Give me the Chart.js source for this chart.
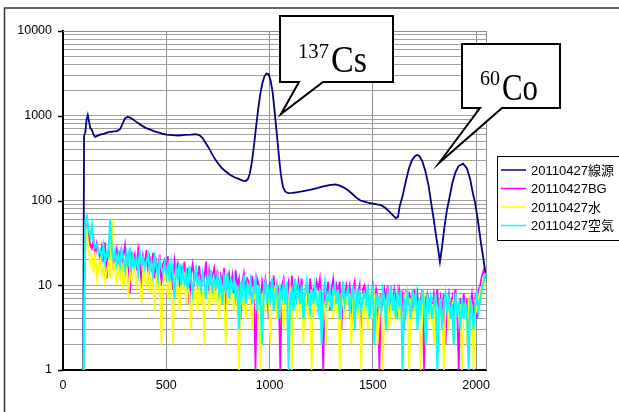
<!DOCTYPE html>
<html>
<head>
<meta charset="utf-8">
<script src="https://cdn.jsdelivr.net/npm/chart.js@4.4.1/dist/chart.umd.min.js"></script>
<style>
  body { margin: 0; background: #fff; }
  canvas { display: block; }
</style>
</head>
<body>
<canvas id="specChart" width="619" height="412"></canvas>
<script>
// 線源 spectrum (channel, counts)
const sourceChannels = [
  98, 102, 108, 114, 120, 126, 132, 140, 148, 156,
  166, 180, 200, 220, 240, 260, 276, 288, 300, 312,
  326, 340, 360, 380, 400, 420, 440, 460, 480, 500,
  530, 560, 590, 620, 640, 660, 675, 690, 705, 720,
  735, 750, 770, 790, 810, 830, 850, 870, 885, 895,
  905, 915, 925, 935, 945, 955, 965, 975, 985, 995,
  1005, 1015, 1025, 1035, 1045, 1055, 1065, 1075, 1090, 1110,
  1130, 1150, 1170, 1200, 1230, 1260, 1290, 1320, 1340, 1360,
  1380, 1400, 1420, 1440, 1460, 1480, 1500, 1520, 1540, 1560,
  1580, 1600, 1612, 1622, 1630, 1645, 1660, 1675, 1690, 1705,
  1715, 1725, 1740, 1755, 1770, 1785, 1795, 1805, 1815, 1825,
  1835, 1845, 1858, 1870, 1885, 1900, 1915, 1937, 1955, 1970,
  1985, 1995, 2010, 2024, 2036, 2047
];
const sourceCounts = [
  1, 580, 640, 900, 1020, 860, 720, 680, 600, 560,
  580, 600, 615, 640, 650, 660, 690, 800, 930, 970,
  950, 900, 830, 770, 720, 690, 660, 635, 615, 600,
  590, 585, 595, 600, 605, 590, 550, 480, 420, 360,
  310, 275, 240, 218, 200, 188, 180, 172, 170, 178,
  210, 290, 450, 750, 1200, 1800, 2400, 2900, 3150, 3100,
  2600, 1900, 1100, 620, 340, 200, 145, 128, 122, 123,
  125, 127, 130, 134, 140, 147, 152, 155, 150, 142,
  132, 120, 108, 100, 97, 94, 92, 90, 88, 82,
  74, 66, 62, 64, 85, 115, 170, 240, 300, 335,
  345, 335, 290, 220, 150, 85, 60, 40, 28, 19,
  28, 45, 75, 105, 160, 215, 255, 272, 240, 185,
  120, 95, 55, 31, 20, 13
];

// BG / 水 / 空気 share the same channels
const noiseChannels = [
  100, 108, 116, 124, 132, 140, 148, 156, 164, 172,
  180, 188, 196, 204, 212, 220, 228, 236, 244, 252,
  260, 268, 276, 284, 292, 300, 308, 316, 324, 332,
  340, 348, 356, 364, 372, 380, 388, 396, 404, 412,
  420, 428, 436, 444, 452, 460, 468, 476, 484, 492,
  500, 508, 516, 524, 532, 540, 548, 556, 564, 572,
  580, 588, 596, 604, 612, 620, 628, 636, 644, 652,
  660, 668, 676, 684, 692, 700, 708, 716, 724, 732,
  740, 748, 756, 764, 772, 780, 788, 796, 804, 812,
  820, 828, 836, 844, 852, 860, 868, 876, 884, 892,
  900, 908, 916, 924, 932, 940, 948, 956, 964, 972,
  980, 988, 996, 1004, 1012, 1020, 1028, 1036, 1044, 1052,
  1060, 1068, 1076, 1084, 1092, 1100, 1108, 1116, 1124, 1132,
  1140, 1148, 1156, 1164, 1172, 1180, 1188, 1196, 1204, 1212,
  1220, 1228, 1236, 1244, 1252, 1260, 1268, 1276, 1284, 1292,
  1300, 1308, 1316, 1324, 1332, 1340, 1348, 1356, 1364, 1372,
  1380, 1388, 1396, 1404, 1412, 1420, 1428, 1436, 1444, 1452,
  1460, 1468, 1476, 1484, 1492, 1500, 1508, 1516, 1524, 1532,
  1540, 1548, 1556, 1564, 1572, 1580, 1588, 1596, 1604, 1612,
  1620, 1628, 1636, 1644, 1652, 1660, 1668, 1676, 1684, 1692,
  1700, 1708, 1716, 1724, 1732, 1740, 1748, 1756, 1764, 1772,
  1780, 1788, 1796, 1804, 1812, 1820, 1828, 1836, 1844, 1852,
  1860, 1868, 1876, 1884, 1892, 1900, 1908, 1916, 1924, 1932,
  1940, 1948, 1956, 1964, 1972, 1980, 1988, 1996, 2004, 2012,
  2020, 2028, 2036, 2044
];
const bgCounts = [
  1, 48, 52, 40, 30, 27, 35, 22, 31, 25,
  20, 28, 18, 32, 12, 26, 23, 30, 17, 22,
  27, 19, 24, 14, 22, 30, 16, 21, 8, 25,
  18, 23, 15, 27, 20, 9, 22, 17, 26, 14,
  21, 16, 24, 12, 19, 15, 23, 10, 18, 20,
  14, 22, 12, 17, 9, 20, 15, 18, 11, 16,
  13, 19, 10, 16, 6, 14, 18, 11, 15, 12,
  17, 9, 14, 12, 19, 8, 15, 11, 13, 16,
  10, 15, 7, 13, 11, 16, 5, 12, 14, 9,
  13, 8, 15, 10, 12, 4, 11, 14, 9, 12,
  11, 7, 13, 9, 1, 12, 10, 6, 11, 8,
  12, 9, 4, 11, 8, 13, 6, 10, 9, 1,
  10, 12, 7, 9, 11, 5, 13, 8, 10, 6,
  11, 8, 12, 3, 9, 10, 6, 12, 8, 9,
  7, 11, 9, 12, 6, 1, 10, 8, 11, 5,
  9, 12, 7, 10, 8, 11, 3, 9, 7, 10,
  8, 10, 4, 9, 11, 6, 8, 10, 2, 9,
  10, 7, 9, 5, 8, 10, 6, 9, 7, 1,
  8, 6, 9, 7, 10, 4, 8, 6, 9, 7,
  5, 9, 7, 8, 3, 9, 6, 8, 7, 5,
  9, 6, 8, 4, 7, 9, 1, 7, 8, 6,
  7, 5, 8, 6, 9, 4, 7, 5, 8, 2,
  6, 8, 5, 7, 4, 9, 6, 1, 7, 5,
  8, 5, 7, 3, 6, 8, 5, 7, 4, 9,
  10, 13, 15, 12
];
const waterCounts = [
  1, 30, 44, 26, 18, 22, 14, 25, 12, 16,
  20, 13, 17, 11, 15, 19, 12, 62, 14, 18,
  10, 16, 12, 19, 9, 14, 17, 7, 15, 11,
  13, 18, 9, 15, 11, 6, 16, 12, 10, 14,
  8, 13, 11, 5, 14, 9, 12, 2, 10, 13,
  11, 7, 12, 9, 2, 13, 8, 10, 5, 11,
  9, 12, 6, 10, 8, 3, 11, 7, 9, 5,
  10, 6, 9, 2, 11, 8, 5, 10, 7, 9,
  6, 9, 4, 10, 7, 8, 2, 9, 6, 11,
  8, 5, 9, 7, 1, 8, 6, 10, 4, 7,
  9, 6, 3, 8, 7, 10, 5, 1, 8, 6,
  5, 9, 7, 2, 8, 6, 10, 4, 7, 9,
  6, 3, 8, 7, 5, 10, 1, 7, 6, 4,
  8, 5, 7, 2, 9, 6, 4, 8, 1, 7,
  5, 8, 6, 9, 3, 7, 5, 2, 8, 6,
  7, 4, 9, 5, 6, 1, 8, 6, 4, 7,
  6, 8, 2, 7, 5, 9, 4, 6, 1, 8,
  5, 7, 3, 6, 8, 4, 7, 5, 2, 6,
  7, 1, 6, 5, 8, 3, 6, 7, 4, 5,
  6, 4, 7, 2, 6, 8, 5, 1, 7, 4,
  5, 7, 4, 6, 1, 5, 8, 3, 6, 5,
  4, 6, 2, 7, 5, 3, 6, 4, 1, 6,
  7, 3, 5, 6, 2, 5, 7, 4, 6, 1,
  5, 6, 2, 7, 4, 5, 1, 6, 5, 7,
  9, 8, 12, 10
];
const airCounts = [
  1, 58, 66, 45, 38, 52, 33, 28, 30, 24,
  26, 21, 29, 19, 24, 22, 60, 27, 20, 25,
  18, 23, 17, 26, 21, 15, 24, 19, 28, 16,
  22, 17, 20, 14, 25, 18, 21, 16, 19, 23,
  15, 19, 13, 22, 17, 12, 20, 16, 14, 18,
  13, 17, 11, 19, 14, 7, 16, 12, 18, 10,
  15, 11, 14, 9, 17, 12, 8, 13, 16, 10,
  12, 9, 14, 11, 7, 13, 10, 15, 8, 12,
  10, 13, 8, 11, 6, 12, 9, 14, 7, 11,
  9, 12, 7, 10, 3, 11, 8, 13, 6, 10,
  8, 11, 6, 9, 12, 5, 10, 7, 2, 9,
  11, 6, 9, 7, 12, 5, 8, 10, 4, 9,
  7, 10, 6, 11, 1, 8, 9, 5, 12, 7,
  9, 6, 10, 4, 8, 11, 7, 5, 9, 6,
  10, 7, 5, 9, 2, 8, 11, 6, 7, 9,
  5, 8, 10, 6, 9, 4, 7, 11, 6, 8,
  9, 5, 7, 10, 3, 8, 6, 9, 5, 7,
  8, 6, 10, 4, 7, 9, 2, 8, 6, 7,
  5, 9, 7, 3, 8, 6, 10, 5, 7, 4,
  8, 6, 9, 1, 7, 5, 8, 6, 4, 9,
  6, 8, 3, 7, 5, 9, 6, 2, 8, 5,
  7, 4, 6, 8, 1, 5, 7, 3, 6, 8,
  5, 7, 4, 6, 2, 8, 5, 6, 3, 7,
  4, 6, 5, 1, 7, 5, 3, 6, 8, 5,
  7, 9, 11, 14
];

const seriesLabels = ["20110427線源", "20110427BG", "20110427水", "20110427空気"];
const xTickValues = [0, 500, 1000, 1500, 2000];
const yDecades = [1, 10, 100, 1000, 10000];
const peakSup = ["137", "60"];
const peakName = ["Cs", "Co"];

function toPoints(xs, ys) {
  return xs.map((x, i) => ({ x: x, y: ys[i] }));
}

// gridlines at 1..9 of every decade
const yGridValues = [];
yDecades.forEach(d => {
  for (let k = 1; k <= 9; k++) {
    if (d * k <= 10000) yGridValues.push(d * k);
  }
});

const decor = {
  id: "decor",
  beforeDatasetsDraw(chart) {
    const { ctx, chartArea: a } = chart;
    ctx.save();
    ctx.strokeStyle = "#8c8c8c";
    ctx.lineWidth = 1;
    ctx.beginPath();
    ctx.moveTo(a.left, a.top + 0.5);
    ctx.lineTo(a.right + 0.5, a.top + 0.5);
    ctx.lineTo(a.right + 0.5, a.bottom);
    ctx.stroke();
    ctx.restore();
  },
  afterDraw(chart) {
    const { ctx, chartArea: a, scales } = chart;
    ctx.save();

    // outer frame (only left and top fall inside the picture)
    ctx.strokeStyle = "#333";
    ctx.lineWidth = 1.5;
    ctx.strokeRect(4.5, 8, 700, 500);

    // decade ticks on the y axis
    ctx.strokeStyle = "#000";
    ctx.lineWidth = 1.5;
    yDecades.forEach(v => {
      const y = Math.round(scales.y.getPixelForValue(v)) + 0.5;
      ctx.beginPath();
      ctx.moveTo(a.left - 5, y);
      ctx.lineTo(a.left, y);
      ctx.stroke();
    });

    // legend
    ctx.fillStyle = "#fff";
    ctx.fillRect(497, 156, 130, 85);
    ctx.strokeStyle = "#000";
    ctx.lineWidth = 1;
    ctx.strokeRect(497.5, 156.5, 130, 84);
    ctx.font = "13px 'Liberation Sans', 'Noto Sans CJK JP', sans-serif";
    ctx.textBaseline = "middle";
    ctx.textAlign = "left";
    chart.data.datasets.forEach((ds, i) => {
      const y = 170 + i * 18.5;
      ctx.strokeStyle = ds.borderColor;
      ctx.lineWidth = 1.5;
      ctx.beginPath();
      ctx.moveTo(501, y);
      ctx.lineTo(526, y);
      ctx.stroke();
      ctx.fillStyle = "#000";
      ctx.fillText(ds.label, 531, y + 1);
    });

    // callouts
    const boxes = [
      { l: 280, t: 16, r: 393, b: 82, p1: 299, p2: 323, tx: 281, ty: 114,
        sx: 298, sy: 58, sw: 31, nx: 331, ny: 72, nw: 36 },
      { l: 462, t: 44, r: 560, b: 108, p1: 480, p2: 502, tx: 439, ty: 163,
        sx: 480, sy: 85, sw: 20, nx: 502, ny: 100, nw: 36 }
    ];
    boxes.forEach((bx, i) => {
      ctx.beginPath();
      ctx.moveTo(bx.l, bx.t);
      ctx.lineTo(bx.r, bx.t);
      ctx.lineTo(bx.r, bx.b);
      ctx.lineTo(bx.p2, bx.b);
      ctx.lineTo(bx.tx, bx.ty);
      ctx.lineTo(bx.p1, bx.b);
      ctx.lineTo(bx.l, bx.b);
      ctx.closePath();
      ctx.fillStyle = "#fff";
      ctx.fill();
      ctx.strokeStyle = "#000";
      ctx.lineWidth = 2;
      ctx.lineJoin = "miter";
      ctx.stroke();

      ctx.fillStyle = "#000";
      ctx.textBaseline = "alphabetic";
      ctx.font = "21px 'Liberation Serif', serif";
      ctx.fillText(peakSup[i], bx.sx, bx.sy, bx.sw);
      ctx.font = "38px 'Liberation Serif', serif";
      ctx.fillText(peakName[i], bx.nx, bx.ny, bx.nw);
    });

    ctx.restore();
  }
};

const ctx = document.getElementById("specChart").getContext("2d");

new Chart(ctx, {
  type: "line",
  data: {
    datasets: [
      {
        label: seriesLabels[0],
        data: toPoints(sourceChannels, sourceCounts),
        borderColor: "#000080",
        borderWidth: 1.8,
        order: 3
      },
      {
        label: seriesLabels[1],
        data: toPoints(noiseChannels, bgCounts),
        borderColor: "#ff00ff",
        borderWidth: 1.7,
        order: 2
      },
      {
        label: seriesLabels[2],
        data: toPoints(noiseChannels, waterCounts),
        borderColor: "#ffff00",
        borderWidth: 1.7,
        order: 1
      },
      {
        label: seriesLabels[3],
        data: toPoints(noiseChannels, airCounts),
        borderColor: "#00ffff",
        borderWidth: 2,
        order: 0
      }
    ]
  },
  options: {
    responsive: false,
    animation: false,
    layout: { padding: { left: 0, top: 31, right: 133, bottom: 0 } },
    elements: {
      point: { radius: 0 },
      line: { tension: 0, fill: false }
    },
    plugins: {
      legend: { display: false },
      tooltip: { enabled: false }
    },
    scales: {
      x: {
        type: "linear",
        min: 0,
        max: 2048,
        afterBuildTicks: (axis) => { axis.ticks = xTickValues.map(v => ({ value: v })); },
        afterFit: (axis) => { axis.height = 42; },
        grid: { color: "#8c8c8c", lineWidth: 1, drawTicks: false },
        border: { color: "#000", width: 2 },
        ticks: {
          padding: 8,
          color: "#000",
          font: { family: "'Liberation Sans', sans-serif", size: 12.5 },
          maxRotation: 0,
          callback: (v) => String(v)
        }
      },
      y: {
        type: "logarithmic",
        min: 1,
        max: 10000,
        afterBuildTicks: (axis) => { axis.ticks = yGridValues.map(v => ({ value: v })); },
        afterFit: (axis) => { axis.width = 63; },
        grid: { color: "#a0a0a0", lineWidth: 1, drawTicks: false },
        border: { color: "#000", width: 2 },
        ticks: {
          padding: 11,
          color: "#000",
          autoSkip: false,
          font: { family: "'Liberation Sans', sans-serif", size: 12.5 },
          callback: (v) => yDecades.includes(v) ? String(v) : ""
        }
      }
    }
  },
  plugins: [decor]
});
</script>
</body>
</html>
